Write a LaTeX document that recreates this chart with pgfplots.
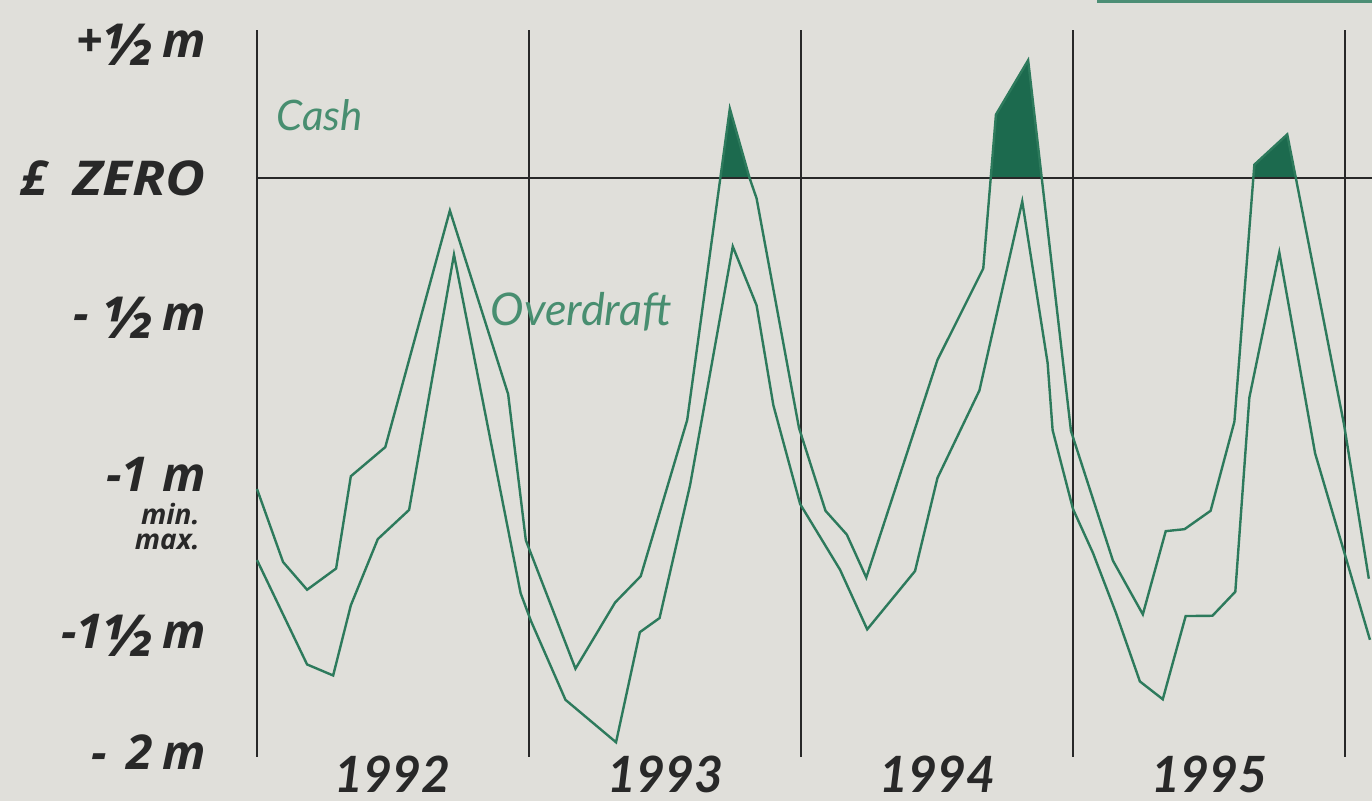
\documentclass[border=0pt]{standalone}
\usepackage{pgfplots}
\pgfplotsset{compat=1.18}
\usepackage{graphicx}
\usepackage{fontspec}
\setmainfont{Lato}
\newfontfamily\labfont{Open Sans}
\definecolor{bgcol}{RGB}{224,223,218}
\definecolor{linegreen}{RGB}{45,122,92}
\definecolor{fillgreen}{RGB}{28,106,78}
\definecolor{textgreen}{RGB}{72,142,112}
\definecolor{axcol}{RGB}{40,40,40}
\newcommand\half{{\fontsize{29}{29}\selectfont\raisebox{-0.14em}{½}}}

\pgfplotstableread{
m v
0.00 -1.099
1.15 -1.357
2.21 -1.455
3.49 -1.380
4.14 -1.054
5.66 -0.951
8.51 -0.115
11.08 -0.764
11.86 -1.280
14.05 -1.734
15.80 -1.500
16.93 -1.407
18.98 -0.855
20.86 0.245
21.73 0.000
22.04 -0.072
23.91 -0.883
25.08 -1.176
26.02 -1.260
26.88 -1.412
30.02 -0.643
32.04 -0.320
32.60 0.224
34.02 0.416
34.62 0.000
35.91 -0.894
37.76 -1.352
39.08 -1.542
40.09 -1.248
40.92 -1.241
42.07 -1.176
43.12 -0.861
44.00 0.047
45.45 0.154
45.83 0.000
47.96 -0.873
49.05 -1.416
}\cashtab

\pgfplotstableread{
m v
0.00 -1.350
2.21 -1.719
3.36 -1.758
4.14 -1.510
5.33 -1.276
6.71 -1.173
8.69 -0.271
11.63 -1.467
12.09 -1.566
13.61 -1.844
15.84 -1.994
16.89 -1.605
17.76 -1.555
19.11 -1.084
20.99 -0.242
22.04 -0.450
22.78 -0.803
23.96 -1.152
25.72 -1.384
26.92 -1.595
29.03 -1.389
30.02 -1.060
31.87 -0.751
33.76 -0.083
34.88 -0.654
35.10 -0.891
36.00 -1.170
36.88 -1.325
37.89 -1.536
38.95 -1.779
39.96 -1.842
40.97 -1.548
42.15 -1.547
43.16 -1.462
43.78 -0.776
45.10 -0.263
46.68 -0.973
48.00 -1.332
49.10 -1.632
}\overtab

\begin{document}
\begin{tikzpicture}
\fill[bgcol] (-128.5pt,-22pt) rectangle (557.5pt,378.5pt);
\fill[linegreen!85!white] (420pt,377.2pt) rectangle (557.5pt,378.5pt);
\begin{axis}[
  at={(0,0)}, anchor=south west,
  scale only axis,
  width=557.5pt, height=363.5pt,
  xmin=0, xmax=49.19,
  ymin=-2.046, ymax=0.523,
  axis line style={draw=none},
  tick style={draw=none},
  xtick={6,18,30,42},
  xticklabels={1992,1993,1994,1995},
  xticklabel style={font=\fontsize{25}{25}\selectfont\bfseries\itshape, text=axcol, anchor=north, yshift=4pt},
  extra x ticks={0,12,24,36,48},
  extra x tick labels={},
  extra x tick style={grid=major, major grid style={axcol, line width=1pt}},
  ytick={0.47,0,-0.495,-1.049,-1.615,-2.028},
  yticklabels={+\half\,m,£\hspace{0.55em}\scalebox{1.14}[1]{ZERO},-\hspace{0.3em}\half\,m,-1\hspace{0.3em}m,-1\half\,m,-\hspace{0.4em}2\hspace{0.2em}m},
  yticklabel style={font=\labfont\fontsize{24}{24}\selectfont\bfseries\itshape, text=axcol, anchor=east, xshift=-22pt},
  clip=false,
]
\addplot[fill=fillgreen, draw=none] coordinates {(20.44,0) (20.86,0.245) (21.73,0)};
\addplot[fill=fillgreen, draw=none] coordinates {(32.37,0) (32.60,0.224) (34.02,0.416) (34.62,0)};
\addplot[fill=fillgreen, draw=none] coordinates {(43.96,0) (44.00,0.047) (45.45,0.154) (45.83,0)};
\addplot[axcol, line width=1pt] coordinates {(0,0) (49.19,0)};
\addplot[linegreen, line width=1.2pt, line join=miter] table[x=m, y=v] {\cashtab};
\addplot[linegreen, line width=1.2pt, line join=miter] table[x=m, y=v] {\overtab};
\node[text=textgreen, font=\fontsize{21}{21}\selectfont\itshape] at (axis cs:2.76,0.223) {Cash};
\node[text=textgreen, font=\fontsize{22.5}{22.5}\selectfont\itshape] at (axis cs:14.3,-0.473) {Overdraft};
\end{axis}
\node[text=axcol, font=\labfont\fontsize{14}{12.5}\selectfont\bfseries\itshape, anchor=north east, align=right, inner sep=0pt] at (-28.5pt,127pt) {min.\\max.};
\pgfresetboundingbox
\path[use as bounding box] (-128.5pt,-22pt) rectangle (557.5pt,378.5pt);
\end{tikzpicture}
\end{document}
